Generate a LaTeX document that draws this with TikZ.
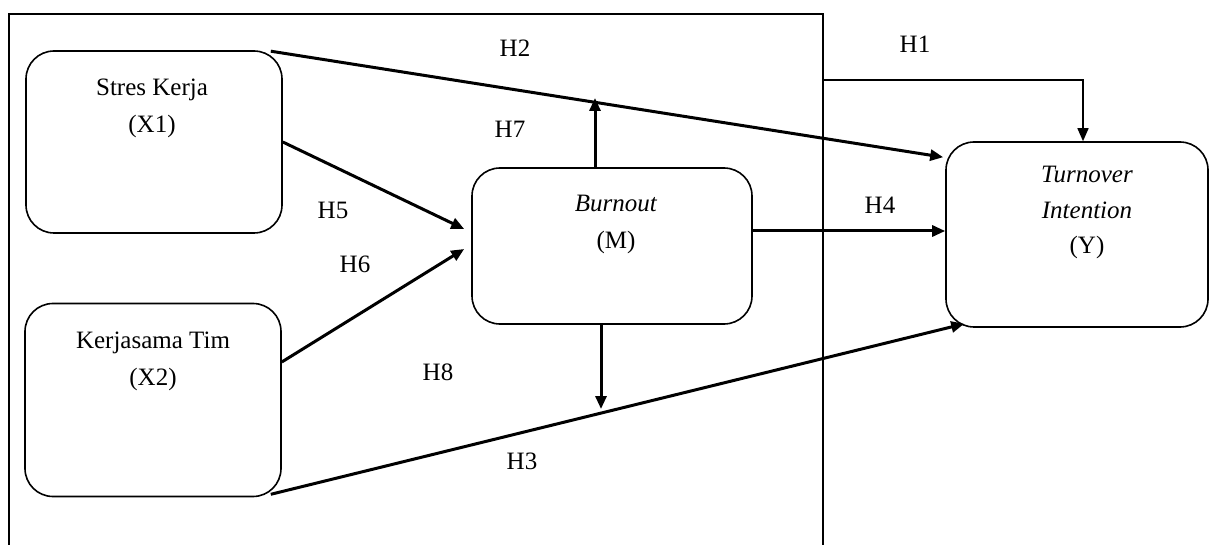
\documentclass[tikz,border=0pt]{standalone}
\usepackage{fontspec}
\setmainfont{Liberation Serif}
\usetikzlibrary{arrows.meta,calc}

\begin{document}
\begin{tikzpicture}[x=0.5pt,y=-0.5pt,
  box/.style n args={2}{draw,line width=0.8pt,rounded corners=14pt,minimum width=#1*0.5pt,minimum height=#2*0.5pt,inner sep=0pt},
  txt/.style={align=center,font=\fontsize{12.5}{18.5}\selectfont},
  hyp/.style={font=\fontsize{12.5}{15}\selectfont},
  arr/.style={line width=1.5pt,-{Triangle[length=6.5pt,width=5.5pt]}}]
\useasboundingbox (0,0) rectangle (1210,545);
% frame
\draw[line width=0.8pt] (9,545) -- (9,14) -- (823,14) -- (823,545);
% boxes
\node[box={256}{182}] (x1) at (154,142) {};
\node[box={256}{193}] (x2) at (153,400) {};
\node[box={280}{156}] (m) at (612,246) {};
\node[box={262}{185}] (y) at (1077,234.5) {};
\node[txt] (x1t) at (152,108.5) {Stres Kerja\\(X1)};
\node[txt] (x2t) at (153,361) {Kerjasama Tim\\(X2)};
\node[txt] (mt) at (616,224) {\textit{Burnout}\\(M)};
\node[txt,font=\fontsize{12.5}{17.75}\selectfont] (yt) at (1087,212.5) {\textit{Turnover}\\\textit{Intention}\\(Y)};
% points on lines
\coordinate (h1a) at (823,80);
\coordinate (h2a) at ($(x1.north east)+(-12,1)$);
\coordinate (h2b) at ($(y.north west)+(-2,16)$);
\coordinate (h3a) at ($(x2.south east)+(-11,-3)$);
\coordinate (h3b) at ($(y.south west)+(19,-4)$);
\coordinate (h7b) at (595,98);
\coordinate (h8b) at (601,409);
% arrows
\draw[arr,line width=0.8pt] (h1a) -| ($(y.north)+(6,0)$);
\draw[arr] (h2a) -- (h2b);
\draw[arr] (h3a) -- (h3b);
\draw[arr] ($(m.east)+(0,-15)$) -- ($(y.west)+(0,-3.5)$);
\draw[arr] (x1.east) -- ($(m.west)+(-7,-17)$);
\draw[arr] ($(x2.east)+(0,-38)$) -- ($(m.west)+(-7,3)$);
\draw[arr] ($(m.north)+(-17,0)$) -- (h7b);
\draw[arr] ($(m.south)+(-11,0)$) -- (h8b);
% labels
\node[hyp] (h1) at (915,44) {H1};
\node[hyp] (h2) at (515,48) {H2};
\node[hyp] (h3) at (522,461) {H3};
\node[hyp] (h4) at (880,205) {H4};
\node[hyp] (h5) at (333,210) {H5};
\node[hyp] (h6) at (355,264) {H6};
\node[hyp] (h7) at (510,129) {H7};
\node[hyp] (h8) at (438,372) {H8};
\end{tikzpicture}
\end{document}
